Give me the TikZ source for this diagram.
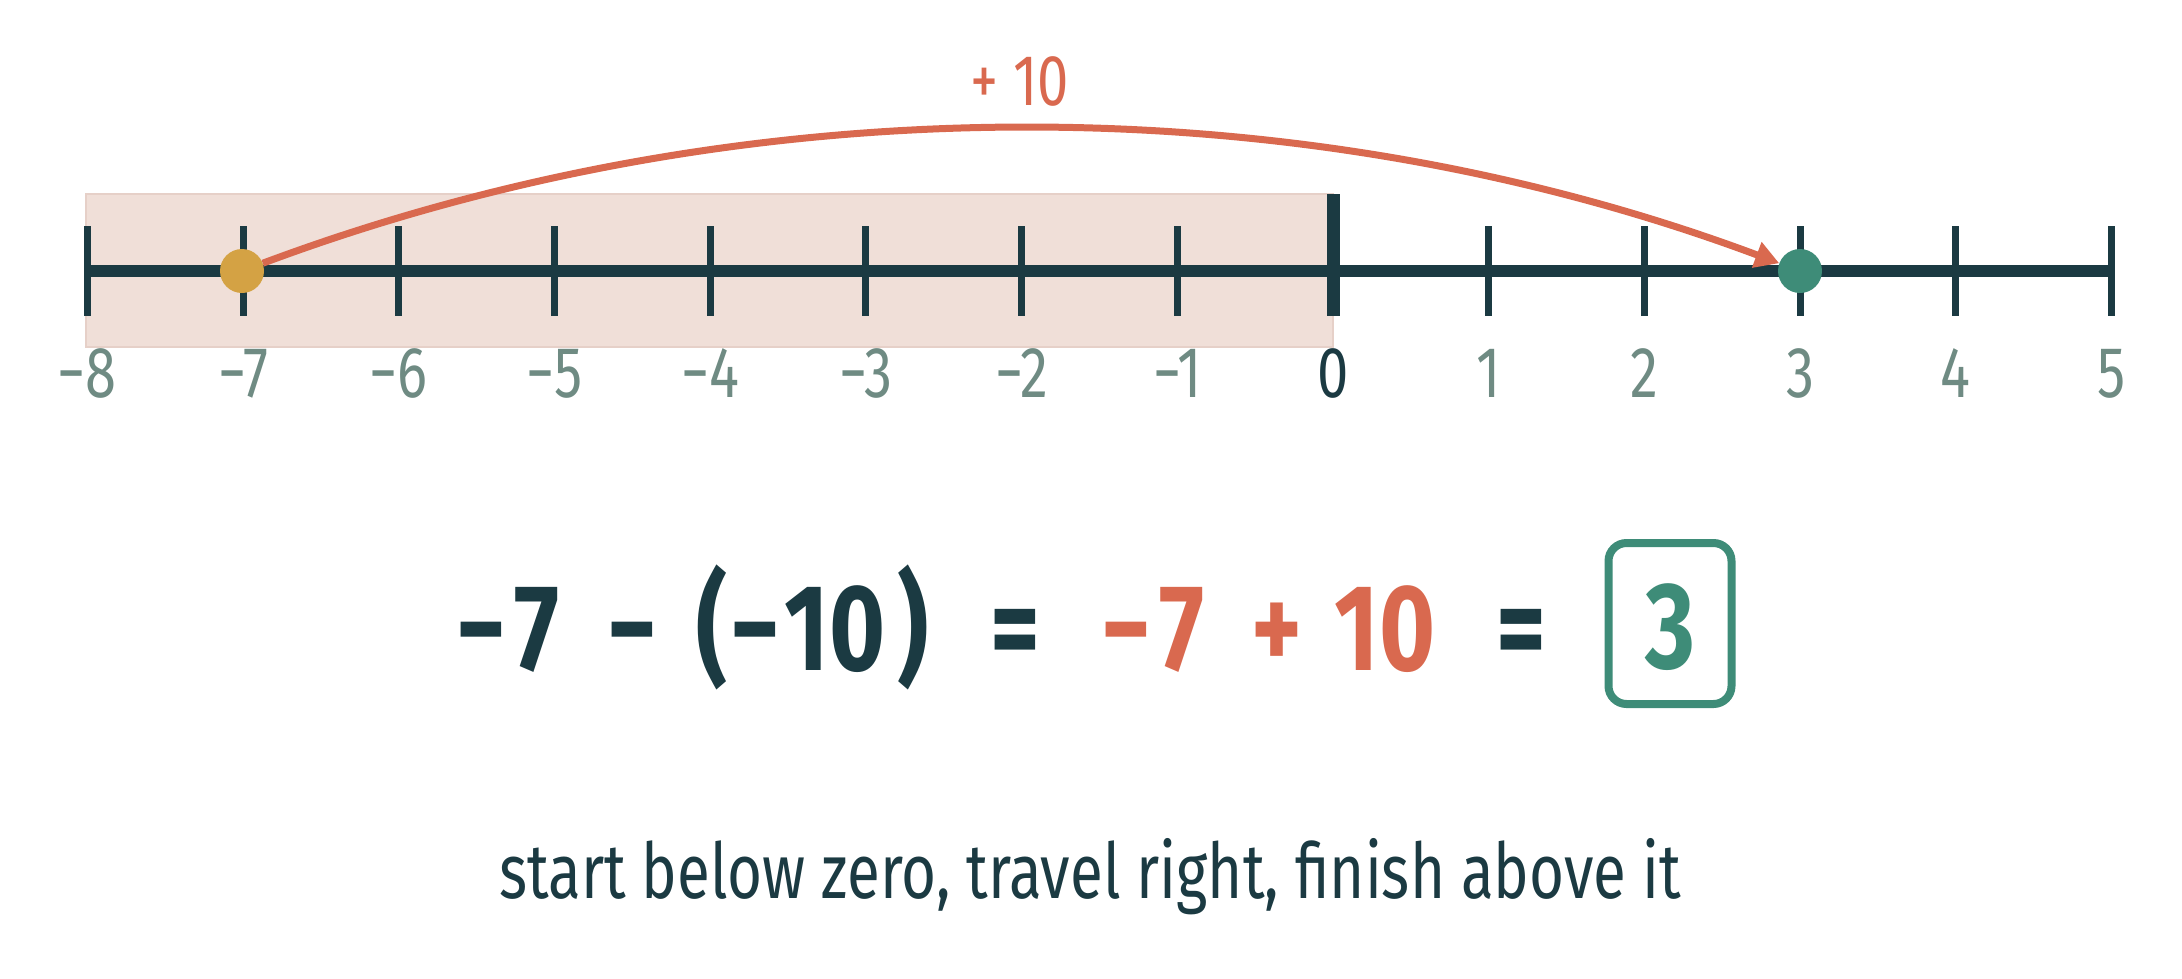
\documentclass[tikz,border=0pt]{standalone}
\usepackage{fontspec}
\setmainfont{Fira Sans}[FakeStretch=0.78]
\usetikzlibrary{arrows.meta}
\definecolor{ink}{HTML}{1B3A42}
\definecolor{labgray}{HTML}{6F8B83}
\definecolor{coral}{HTML}{D9694F}
\definecolor{gold}{HTML}{D4A244}
\definecolor{teal}{HTML}{3E8C78}
\definecolor{negfill}{HTML}{F0DFD8}
\definecolor{negedge}{HTML}{E6D0C8}
\tikzset{
  tickmark/.style={draw=ink, line width=7pt},
  numlab/.style={labgray, anchor=base, inner sep=0pt, font=\fontsize{72}{80}\selectfont},
  dotmark/.style={circle, minimum size=44pt, inner sep=0pt},
  eqtext/.style={anchor=base, inner sep=0pt, font=\fontsize{123}{130}\selectfont\bfseries},
}
\begin{document}
\begin{tikzpicture}[x=1pt, y=-1pt]
\useasboundingbox (0,0) rectangle (2182,978);
% shaded negative region
\filldraw[fill=negfill, draw=negedge, line width=1.2pt] (86,194) rectangle (1333,347);
% axis
\draw[ink, line width=12pt] (87,271) -- (2112,271);
\foreach \n in {-8,...,5}{
  \pgfmathsetmacro{\xx}{1333+\n*155.7}
  \ifnum\n=0
    \draw[ink, line width=13pt] (\xx,194) -- (\xx,316);
    \node[numlab, text=ink] (lab\n) at (\xx,397) {0};
  \else
    \draw[tickmark] (\xx,226) -- (\xx,316);
    \ifnum\n<0
      \node[numlab] (lab\n) at (\xx,397) {−\the\numexpr-\n\relax};
    \else
      \node[numlab] (lab\n) at (\xx,397) {\n};
    \fi
  \fi
}
% dots
\node[dotmark, fill=gold] (dA) at (242,271) {};
\node[dotmark, fill=teal] (dB) at (1800,271) {};
% jump arc
\draw[coral, line width=7pt, -{Triangle[length=24pt, width=26pt]}]
  (dA) .. controls +(-20.5:537) and +(-159.5:537) .. (dB);
\node[coral, anchor=base, inner sep=0pt, font=\fontsize{72}{78}\selectfont] (jump) at (1020,105) {+ 10};
% equation
\node[eqtext, text=ink] (e1) at (508,670) {−\kern8pt 7};
\node[eqtext, text=ink] (e2) at (632,670) {−};
\node[eqtext, text=ink] (e3) at (712,670) {(};
\node[eqtext, text=ink] (e4) at (808,670) {−\kern4pt 10};
\node[eqtext, text=ink] (e5) at (913,670) {)};
\node[eqtext, text=ink] (e6) at (1015,670) {=};
\node[eqtext, text=coral] (e7) at (1153,670) {−\kern8pt 7};
\node[eqtext, text=coral] (e8) at (1277,670) {+};
\node[eqtext, text=coral] (e9) at (1385,670) {10};
\node[eqtext, text=ink] (e10) at (1521,670) {=};
\node[draw=teal, line width=8pt, rounded corners=18pt, minimum width=123pt, minimum height=161pt, inner sep=0pt] (box) at (1670,623.5) {};
\node[eqtext, text=teal] (ans) at (1670,668) {3};
% caption
\node[ink, anchor=base, inner sep=0pt, font=\fontsize{77}{84}\selectfont] (cap) at (1090,898) {start below zero, travel right, finish above it};
\end{tikzpicture}
\end{document}
